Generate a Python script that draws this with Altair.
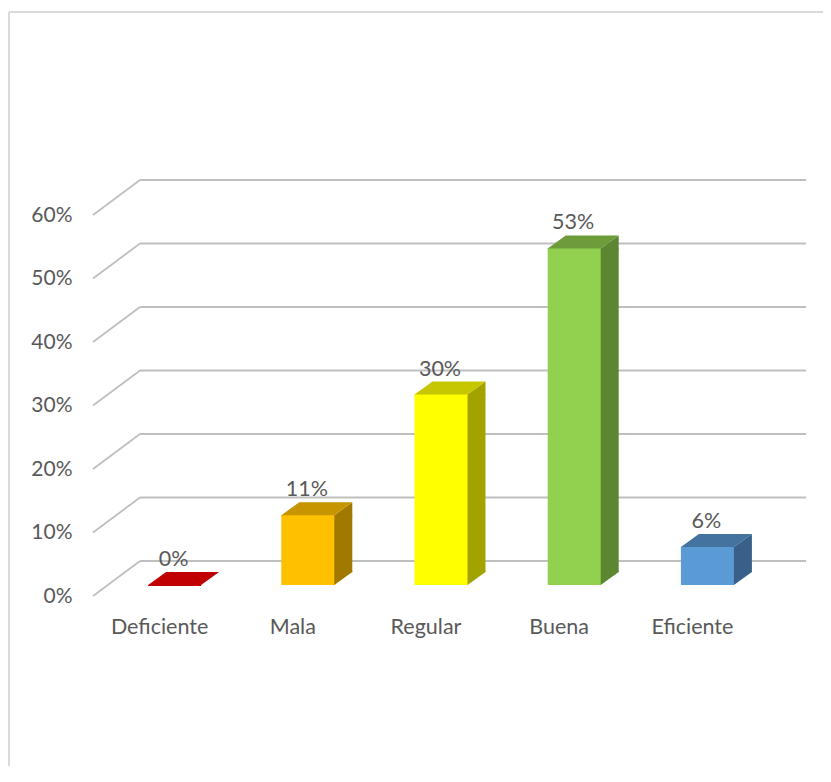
import altair as alt
import pandas as pd

categories = ["Deficiente", "Mala", "Regular", "Buena", "Eficiente"]
values = [0.00, 0.11, 0.30, 0.53, 0.06]
y_ticks = [0.0, 0.1, 0.2, 0.3, 0.4, 0.5, 0.6]

front_colors = ["#C00000", "#FFC000", "#FFFF00", "#92D050", "#5B9BD5"]
top_colors = ["#C00000", "#C79500", "#C7C700", "#6E9C3B", "#44739F"]
side_colors = ["#8F0000", "#A27900", "#A3A300", "#5C8730", "#386089"]

df = pd.DataFrame({"cat": categories, "value": values})
ticks_df = pd.DataFrame({"tick": y_ticks})

W, H = 666, 381
FONT = "Lato"
TXT = "#595959"
FS = 21.5
DX, DY = -47, 35          # depth of the floor / wall (front offset)
BX, BY = -32, 24          # bar front face offset from the back plane

xs = alt.Scale(domain=categories, paddingInner=0, paddingOuter=0)
ys = alt.Scale(domain=[0, 0.6], nice=False)

X = alt.X("cat:N", scale=xs, sort=categories, title=None,
          axis=alt.Axis(labelOffset=DX, labelPadding=72, labelBaseline="alphabetic",
                        labelAngle=0, domain=False, ticks=False, tickSize=0, grid=False,
                        labelFont=FONT, labelFontSize=FS, labelColor=TXT))

def col(field, rng):
    return alt.Color(f"{field}:N", scale=alt.Scale(domain=categories, range=rng), legend=None)

base = alt.Chart(df).transform_calculate(c_side="datum.cat", c_top="datum.cat", c_front="datum.cat")

# frame (chart area border)
frame_top = alt.Chart(ticks_df).mark_rule(color="#d9d9d9", strokeWidth=2).encode(
    x=alt.value(-131), x2=alt.value(W + 20), y=alt.value(-168))
frame_left = alt.Chart(ticks_df).mark_rule(color="#d9d9d9", strokeWidth=2).encode(
    x=alt.value(-131), y=alt.value(-168), y2=alt.value(H + 210))

# back wall gridlines through the y axis
wall = alt.Chart(ticks_df).mark_rule(color="#bfbfbf", strokeWidth=1.8).encode(
    x=alt.value(0), x2=alt.value(W),
    y=alt.Y("tick:Q", scale=ys, title=None,
            axis=alt.Axis(values=y_ticks, format=".0%", offset=-DX, labelOffset=DY,
                          labelPadding=21, tickSize=0, ticks=False, domain=False, grid=False,
                          labelFont=FONT, labelFontSize=FS - 0.5, labelColor=TXT,
                          labelBaseline="middle")))
diag = alt.Chart(ticks_df).mark_rule(color="#bfbfbf", strokeWidth=1.8, y2Offset=DY).encode(
    x=alt.value(0), x2=alt.value(DX),
    y=alt.Y("tick:Q", scale=ys), y2="tick:Q")

pos = base.transform_filter("datum.value > 0")

side_rect = pos.mark_bar(width=19, xOffset=BX + 35, yOffset=BY, y2Offset=BY - 13).encode(
    x=X, y=alt.Y("value:Q", scale=ys), y2=alt.datum(0), color=col("c_side", side_colors))
side_top = pos.mark_point(shape="M25.5,0L26.5,0L44.5,-13L44.5,1L25.5,1Z", size=4, filled=True,
                          opacity=1, strokeWidth=0, xOffset=BX, yOffset=BY).encode(
    x=X, y=alt.Y("value:Q", scale=ys), color=col("c_side", side_colors))
side_bot = pos.transform_calculate(zero="0").mark_point(
    shape="M25.5,0L26.5,0L44.5,-13L44.5,-14L25.5,-14Z", size=4, filled=True,
    opacity=1, strokeWidth=0, xOffset=BX, yOffset=BY).encode(
    x=X, y=alt.Y("zero:Q", scale=ys), color=col("c_side", side_colors))
top_face = base.mark_point(shape="M-26.5,1L26.5,1L26.5,0L44.5,-13L-8.5,-13L-26.5,0Z", size=4,
                           filled=True, opacity=1, strokeWidth=0, xOffset=BX, yOffset=BY).encode(
    x=X, y=alt.Y("value:Q", scale=ys), color=col("c_top", top_colors))
front = pos.mark_bar(width=53, xOffset=BX, yOffset=BY, y2Offset=BY).encode(
    x=X, y=alt.Y("value:Q", scale=ys), y2=alt.datum(0), color=col("c_front", front_colors))
labels = base.mark_text(font=FONT, fontSize=FS, color=TXT, baseline="alphabetic", align="center",
                        xOffset=BX - 1, yOffset=BY - 13 - 6).encode(
    x=X, y=alt.Y("value:Q", scale=ys), text=alt.Text("value:Q", format=".0%"))

chart = alt.layer(frame_top, frame_left, wall, diag, side_rect, side_top, side_bot, top_face,
                  front, labels).resolve_scale(color="independent").properties(
    width=W, height=H,
    autosize=alt.AutoSizeParams(type="none"),
    padding={"left": 132, "top": 172, "right": 17, "bottom": 205},
).configure(background="white").configure_view(stroke=None)

chart.save("out.html", embed_options={"renderer": "svg", "actions": False})
